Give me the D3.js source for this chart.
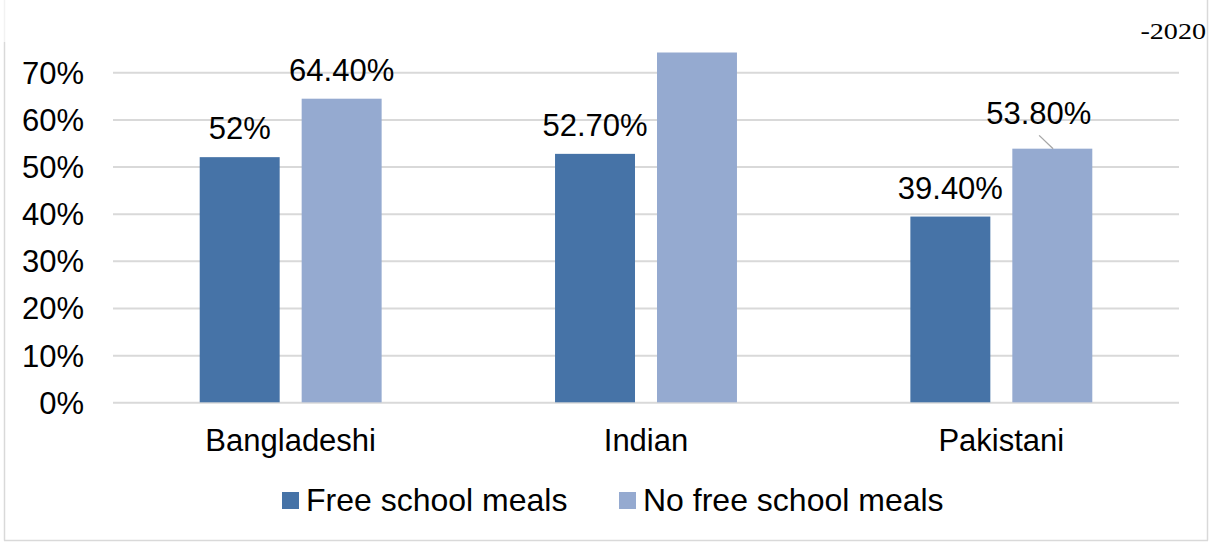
<!DOCTYPE html>
<html>
<head>
<meta charset="utf-8">
<script src="https://cdn.jsdelivr.net/npm/d3@7"></script>
<style>
  html, body { margin: 0; padding: 0; background: #ffffff; }
  svg { display: block; }
  text { font-family: "Liberation Sans", Arial, sans-serif; fill: #000; }
</style>
</head>
<body>
<svg id="chart" width="1221" height="542"></svg>
<script>
// Share of pupils, by ethnic group and free-school-meal eligibility
const categories = ["Bangladeshi", "Indian", "Pakistani"];
const seriesNames = ["Free school meals", "No free school meals"];
const freeMeals = [52.0, 52.7, 39.4];
const noFreeMeals = [64.4, 74.2, 53.8];
const freeMealsLabels = ["52%", "52.70%", "39.40%"];
const noFreeMealsLabels = ["64.40%", null, "53.80%"];
const yTicks = [0, 10, 20, 30, 40, 50, 60, 70];
const yTickLabels = ["0%", "10%", "20%", "30%", "40%", "50%", "60%", "70%"];
const cornerNote = "-2020";

const colors = { "Free school meals": "#4673a7", "No free school meals": "#95aad0" };

const svg = d3.select("#chart");
const plot = { left: 113, right: 1179, top: 72.3, bottom: 402.3 };

// frame around the chart area
const frame = svg.append("g").attr("stroke-width", 1.5).attr("fill", "none");
frame.append("line").attr("x1", 4.5).attr("x2", 4.5).attr("y1", 0).attr("y2", 42).attr("stroke", "#f2f2f2");
frame.append("line").attr("x1", 4.5).attr("x2", 4.5).attr("y1", 42).attr("y2", 540.5).attr("stroke", "#d9d9d9");
frame.append("line").attr("x1", 1207.5).attr("x2", 1207.5).attr("y1", 0).attr("y2", 540.5).attr("stroke", "#d9d9d9");
frame.append("line").attr("x1", 4).attr("x2", 1208).attr("y1", 540.5).attr("y2", 540.5).attr("stroke", "#d9d9d9");

const y = d3.scaleLinear().domain([0, 70]).range([plot.bottom, plot.top]);
const x = d3.scaleBand().domain(categories).range([plot.left, plot.right]).paddingInner(0).paddingOuter(0);

// grouped bars sit in the middle ~51% of each category band
const groupW = x.bandwidth() * 0.512;
const xs = d3.scaleBand().domain(seriesNames).range([0, groupW]).paddingInner(0.2157).paddingOuter(0);
const groupOffset = (x.bandwidth() - groupW) / 2;

// gridlines and value axis labels
const yAxis = d3.axisLeft(y).tickValues(yTicks).tickSize(-(plot.right - plot.left))
  .tickFormat((d, i) => yTickLabels[i]).tickPadding(29);
const gy = svg.append("g").attr("transform", `translate(${plot.left},0)`).call(yAxis);
gy.select(".domain").remove();
gy.selectAll(".tick line").attr("stroke", "#d9d9d9").attr("stroke-width", 2);
gy.selectAll(".tick text").attr("font-size", 31).attr("dy", "0.35em")
  .style("font-family", "'Liberation Sans', Arial, sans-serif").attr("fill", "#000");

// category axis labels
const xAxis = d3.axisBottom(x).tickSize(0).tickPadding(0);
const gx = svg.append("g").attr("transform", `translate(0,${plot.bottom})`).call(xAxis);
gx.select(".domain").remove();
gx.selectAll(".tick text").attr("font-size", 31).attr("dy", 0).attr("y", 49)
  .style("font-family", "'Liberation Sans', Arial, sans-serif").attr("fill", "#000");

const rows = categories.map((c, i) => ({
  category: c,
  values: [
    { series: seriesNames[0], value: freeMeals[i], label: freeMealsLabels[i] },
    { series: seriesNames[1], value: noFreeMeals[i], label: noFreeMealsLabels[i] }
  ]
}));

const groups = svg.append("g").selectAll("g").data(rows).join("g")
  .attr("transform", d => `translate(${x(d.category) + groupOffset},0)`);

groups.selectAll("rect").data(d => d.values).join("rect")
  .attr("x", d => xs(d.series))
  .attr("width", xs.bandwidth())
  .attr("y", d => y(d.value))
  .attr("height", d => y(0) - y(d.value))
  .attr("fill", d => colors[d.series]);

// value labels; the Pakistani "no free meals" label is lifted off its bar with a leader line
groups.each(function (row) {
  const g = d3.select(this);
  row.values.forEach(v => {
    if (!v.label) return;
    const cx = xs(v.series) + xs.bandwidth() / 2;
    const top = y(v.value);
    let dx = 0, dy = 0;
    if (row.category === "Pakistani" && v.series === seriesNames[1]) {
      dx = -13.5; dy = -6.7;
      g.append("line")
        .attr("x1", cx - 13.2).attr("y1", top - 13.3)
        .attr("x2", cx + 0.8).attr("y2", top)
        .attr("stroke", "#a6a6a6").attr("stroke-width", 1.3);
    }
    g.append("text")
      .attr("x", cx + dx).attr("y", top - 18 + dy)
      .attr("text-anchor", "middle").attr("font-size", 31)
      .text(v.label);
  });
});

// legend
const legend = svg.append("g");
const legendItems = [
  { name: seriesNames[0], x: 282 },
  { name: seriesNames[1], x: 619 }
];
legendItems.forEach(it => {
  legend.append("rect").attr("x", it.x).attr("y", 492).attr("width", 17).attr("height", 17)
    .attr("fill", colors[it.name]);
  legend.append("text").attr("x", it.x + 24).attr("y", 511).attr("font-size", 32).text(it.name);
});

// corner note, in a horizontally stretched serif face
svg.append("text")
  .attr("transform", "translate(1206,39) scale(1.25,1)")
  .attr("text-anchor", "end")
  .attr("font-size", 22.5).style("font-family", "'Liberation Serif', 'Times New Roman', serif")
  .text(cornerNote);
</script>
</body>
</html>
